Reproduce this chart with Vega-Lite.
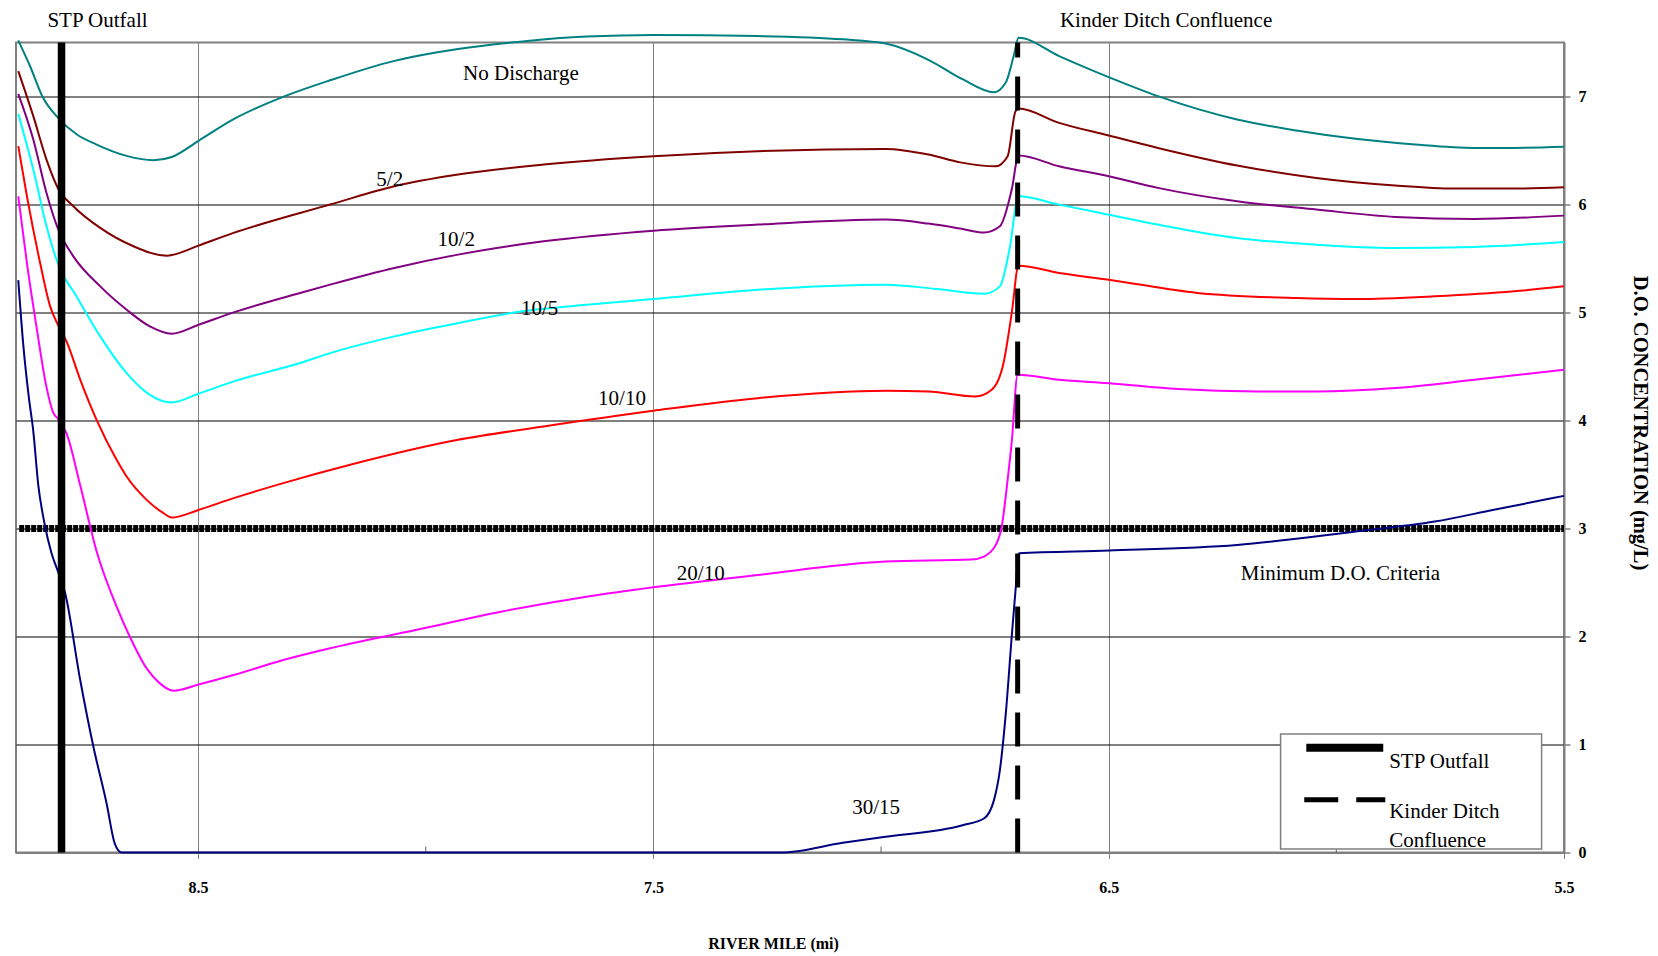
{
  "$schema": "https://vega.github.io/schema/vega-lite/v6.json",
  "autosize": "none",
  "width": 1548,
  "height": 810,
  "padding": {"left": 16, "top": 42.5, "right": 94, "bottom": 103.5},
  "background": "white",
  "config": {
    "font": "Liberation Serif",
    "view": {"stroke": "#808080", "strokeWidth": 2}
  },
  "datasets": {
    "curves": [
      {"s":"No Discharge","m":8.895,"d":7.52},{"s":"No Discharge","m":8.869,"d":7.28},{"s":"No Discharge","m":8.842,"d":7.0},{"s":"No Discharge","m":8.807,"d":6.8},{"s":"No Discharge","m":8.767,"d":6.65},{"s":"No Discharge","m":8.723,"d":6.555},{"s":"No Discharge","m":8.657,"d":6.45},{"s":"No Discharge","m":8.598,"d":6.41},{"s":"No Discharge","m":8.558,"d":6.44},{"s":"No Discharge","m":8.499,"d":6.59},{"s":"No Discharge","m":8.422,"d":6.79},{"s":"No Discharge","m":8.305,"d":7.01},{"s":"No Discharge","m":8.21,"d":7.15},{"s":"No Discharge","m":8.069,"d":7.33},{"s":"No Discharge","m":7.929,"d":7.44},{"s":"No Discharge","m":7.788,"d":7.51},{"s":"No Discharge","m":7.647,"d":7.555},{"s":"No Discharge","m":7.497,"d":7.57},{"s":"No Discharge","m":7.271,"d":7.56},{"s":"No Discharge","m":7.084,"d":7.53},{"s":"No Discharge","m":6.99,"d":7.49},{"s":"No Discharge","m":6.896,"d":7.34},{"s":"No Discharge","m":6.821,"d":7.16},{"s":"No Discharge","m":6.752,"d":7.04},{"s":"No Discharge","m":6.726,"d":7.13},{"s":"No Discharge","m":6.709,"d":7.37},{"s":"No Discharge","m":6.698,"d":7.544},{"s":"No Discharge","m":6.609,"d":7.374},{"s":"No Discharge","m":6.5,"d":7.179},{"s":"No Discharge","m":6.392,"d":7.003},{"s":"No Discharge","m":6.218,"d":6.787},{"s":"No Discharge","m":6.088,"d":6.685},{"s":"No Discharge","m":5.958,"d":6.608},{"s":"No Discharge","m":5.827,"d":6.555},{"s":"No Discharge","m":5.697,"d":6.524},{"s":"No Discharge","m":5.61,"d":6.524},{"s":"No Discharge","m":5.5,"d":6.534},

      {"s":"5/2","m":8.895,"d":7.235},{"s":"5/2","m":8.862,"d":6.818},{"s":"5/2","m":8.833,"d":6.416},{"s":"5/2","m":8.807,"d":6.144},{"s":"5/2","m":8.774,"d":5.984},{"s":"5/2","m":8.715,"d":5.783},{"s":"5/2","m":8.642,"d":5.613},{"s":"5/2","m":8.569,"d":5.526},{"s":"5/2","m":8.554,"d":5.536},{"s":"5/2","m":8.499,"d":5.619},{"s":"5/2","m":8.422,"d":5.737},{"s":"5/2","m":8.276,"d":5.922},{"s":"5/2","m":8.21,"d":6.0},{"s":"5/2","m":8.069,"d":6.169},{"s":"5/2","m":7.929,"d":6.277},{"s":"5/2","m":7.741,"d":6.37},{"s":"5/2","m":7.5,"d":6.447},{"s":"5/2","m":7.271,"d":6.493},{"s":"5/2","m":6.99,"d":6.515},{"s":"5/2","m":6.896,"d":6.463},{"s":"5/2","m":6.826,"d":6.39},{"s":"5/2","m":6.748,"d":6.354},{"s":"5/2","m":6.722,"d":6.447},{"s":"5/2","m":6.705,"d":6.86},{"s":"5/2","m":6.698,"d":6.889},{"s":"5/2","m":6.609,"d":6.756},{"s":"5/2","m":6.5,"d":6.639},{"s":"5/2","m":6.392,"d":6.524},{"s":"5/2","m":6.218,"d":6.361},{"s":"5/2","m":6.044,"d":6.246},{"s":"5/2","m":5.871,"d":6.175},{"s":"5/2","m":5.74,"d":6.147},{"s":"5/2","m":5.61,"d":6.147},{"s":"5/2","m":5.5,"d":6.16},

      {"s":"10/2","m":8.895,"d":7.025},{"s":"10/2","m":8.862,"d":6.602},{"s":"10/2","m":8.833,"d":6.107},{"s":"10/2","m":8.807,"d":5.767},{"s":"10/2","m":8.774,"d":5.52},{"s":"10/2","m":8.715,"d":5.242},{"s":"10/2","m":8.657,"d":5.026},{"s":"10/2","m":8.606,"d":4.871},{"s":"10/2","m":8.558,"d":4.804},{"s":"10/2","m":8.499,"d":4.887},{"s":"10/2","m":8.422,"d":5.001},{"s":"10/2","m":8.276,"d":5.181},{"s":"10/2","m":8.21,"d":5.258},{"s":"10/2","m":8.069,"d":5.412},{"s":"10/2","m":7.929,"d":5.536},{"s":"10/2","m":7.741,"d":5.659},{"s":"10/2","m":7.5,"d":5.758},{"s":"10/2","m":7.271,"d":5.814},{"s":"10/2","m":6.99,"d":5.86},{"s":"10/2","m":6.896,"d":5.823},{"s":"10/2","m":6.826,"d":5.777},{"s":"10/2","m":6.774,"d":5.74},{"s":"10/2","m":6.739,"d":5.798},{"s":"10/2","m":6.713,"d":6.138},{"s":"10/2","m":6.698,"d":6.453},{"s":"10/2","m":6.609,"d":6.354},{"s":"10/2","m":6.5,"d":6.262},{"s":"10/2","m":6.392,"d":6.154},{"s":"10/2","m":6.218,"d":6.03},{"s":"10/2","m":6.044,"d":5.953},{"s":"10/2","m":5.871,"d":5.885},{"s":"10/2","m":5.697,"d":5.866},{"s":"10/2","m":5.5,"d":5.897},

      {"s":"10/5","m":8.895,"d":6.839},{"s":"10/5","m":8.862,"d":6.323},{"s":"10/5","m":8.833,"d":5.798},{"s":"10/5","m":8.807,"d":5.443},{"s":"10/5","m":8.767,"d":5.149},{"s":"10/5","m":8.715,"d":4.779},{"s":"10/5","m":8.657,"d":4.439},{"s":"10/5","m":8.606,"d":4.238},{"s":"10/5","m":8.558,"d":4.167},{"s":"10/5","m":8.499,"d":4.248},{"s":"10/5","m":8.422,"d":4.362},{"s":"10/5","m":8.276,"d":4.532},{"s":"10/5","m":8.21,"d":4.624},{"s":"10/5","m":8.069,"d":4.779},{"s":"10/5","m":7.929,"d":4.902},{"s":"10/5","m":7.788,"d":5.011},{"s":"10/5","m":7.647,"d":5.072},{"s":"10/5","m":7.5,"d":5.125},{"s":"10/5","m":7.271,"d":5.211},{"s":"10/5","m":6.99,"d":5.258},{"s":"10/5","m":6.877,"d":5.217},{"s":"10/5","m":6.774,"d":5.174},{"s":"10/5","m":6.739,"d":5.242},{"s":"10/5","m":6.718,"d":5.582},{"s":"10/5","m":6.698,"d":6.076},{"s":"10/5","m":6.609,"d":5.999},{"s":"10/5","m":6.5,"d":5.906},{"s":"10/5","m":6.392,"d":5.814},{"s":"10/5","m":6.218,"d":5.69},{"s":"10/5","m":6.044,"d":5.628},{"s":"10/5","m":5.871,"d":5.598},{"s":"10/5","m":5.697,"d":5.607},{"s":"10/5","m":5.5,"d":5.653},

      {"s":"10/10","m":8.895,"d":6.54},{"s":"10/10","m":8.876,"d":6.076},{"s":"10/10","m":8.847,"d":5.458},{"s":"10/10","m":8.825,"d":5.057},{"s":"10/10","m":8.807,"d":4.878},{"s":"10/10","m":8.789,"d":4.732},{"s":"10/10","m":8.759,"d":4.379},{"s":"10/10","m":8.723,"d":4.006},{"s":"10/10","m":8.679,"d":3.636},{"s":"10/10","m":8.657,"d":3.481},{"s":"10/10","m":8.613,"d":3.265},{"s":"10/10","m":8.576,"d":3.142},{"s":"10/10","m":8.558,"d":3.101},{"s":"10/10","m":8.499,"d":3.172},{"s":"10/10","m":8.422,"d":3.281},{"s":"10/10","m":8.313,"d":3.42},{"s":"10/10","m":8.166,"d":3.59},{"s":"10/10","m":7.929,"d":3.821},{"s":"10/10","m":7.741,"d":3.945},{"s":"10/10","m":7.5,"d":4.09},{"s":"10/10","m":7.271,"d":4.207},{"s":"10/10","m":6.99,"d":4.275},{"s":"10/10","m":6.896,"d":4.269},{"s":"10/10","m":6.793,"d":4.223},{"s":"10/10","m":6.757,"d":4.285},{"s":"10/10","m":6.731,"d":4.532},{"s":"10/10","m":6.713,"d":4.995},{"s":"10/10","m":6.698,"d":5.434},{"s":"10/10","m":6.609,"d":5.366},{"s":"10/10","m":6.5,"d":5.304},{"s":"10/10","m":6.305,"d":5.181},{"s":"10/10","m":6.088,"d":5.134},{"s":"10/10","m":5.958,"d":5.125},{"s":"10/10","m":5.784,"d":5.15},{"s":"10/10","m":5.61,"d":5.196},{"s":"10/10","m":5.5,"d":5.242},

      {"s":"20/10","m":8.895,"d":6.076},{"s":"20/10","m":8.876,"d":5.458},{"s":"20/10","m":8.854,"d":4.841},{"s":"20/10","m":8.834,"d":4.33},{"s":"20/10","m":8.818,"d":4.07},{"s":"20/10","m":8.807,"d":4.013},{"s":"20/10","m":8.789,"d":3.88},{"s":"20/10","m":8.759,"d":3.4},{"s":"20/10","m":8.723,"d":2.79},{"s":"20/10","m":8.679,"d":2.276},{"s":"20/10","m":8.65,"d":1.998},{"s":"20/10","m":8.613,"d":1.705},{"s":"20/10","m":8.584,"d":1.566},{"s":"20/10","m":8.554,"d":1.498},{"s":"20/10","m":8.499,"d":1.555},{"s":"20/10","m":8.422,"d":1.643},{"s":"20/10","m":8.313,"d":1.782},{"s":"20/10","m":8.21,"d":1.891},{"s":"20/10","m":8.022,"d":2.06},{"s":"20/10","m":7.835,"d":2.23},{"s":"20/10","m":7.647,"d":2.369},{"s":"20/10","m":7.5,"d":2.456},{"s":"20/10","m":7.271,"d":2.57},{"s":"20/10","m":7.084,"d":2.663},{"s":"20/10","m":6.99,"d":2.694},{"s":"20/10","m":6.802,"d":2.712},{"s":"20/10","m":6.774,"d":2.74},{"s":"20/10","m":6.748,"d":2.848},{"s":"20/10","m":6.735,"d":3.018},{"s":"20/10","m":6.722,"d":3.451},{"s":"20/10","m":6.713,"d":3.8},{"s":"20/10","m":6.7,"d":4.424},{"s":"20/10","m":6.609,"d":4.377},{"s":"20/10","m":6.5,"d":4.346},{"s":"20/10","m":6.348,"d":4.291},{"s":"20/10","m":6.175,"d":4.269},{"s":"20/10","m":6.044,"d":4.269},{"s":"20/10","m":5.871,"d":4.3},{"s":"20/10","m":5.697,"d":4.377},{"s":"20/10","m":5.5,"d":4.47},

      {"s":"30/15","m":8.895,"d":5.3},{"s":"30/15","m":8.884,"d":4.7},{"s":"30/15","m":8.872,"d":4.22},{"s":"30/15","m":8.862,"d":3.9},{"s":"30/15","m":8.851,"d":3.4},{"s":"30/15","m":8.838,"d":3.06},{"s":"30/15","m":8.822,"d":2.771},{"s":"30/15","m":8.809,"d":2.616},{"s":"30/15","m":8.792,"d":2.4},{"s":"30/15","m":8.759,"d":1.597},{"s":"30/15","m":8.73,"d":0.979},{"s":"30/15","m":8.701,"d":0.454},{"s":"30/15","m":8.683,"d":0.083},{"s":"30/15","m":8.668,"d":0.0},{"s":"30/15","m":7.22,"d":0.0},{"s":"30/15","m":7.084,"d":0.09},{"s":"30/15","m":6.99,"d":0.145},{"s":"30/15","m":6.821,"d":0.253},{"s":"30/15","m":6.774,"d":0.315},{"s":"30/15","m":6.752,"d":0.485},{"s":"30/15","m":6.739,"d":0.763},{"s":"30/15","m":6.726,"d":1.288},{"s":"30/15","m":6.713,"d":1.999},{"s":"30/15","m":6.704,"d":2.462},{"s":"30/15","m":6.697,"d":2.771},{"s":"30/15","m":6.5,"d":2.796},{"s":"30/15","m":6.218,"d":2.848},{"s":"30/15","m":5.958,"d":2.972},{"s":"30/15","m":5.784,"d":3.064},{"s":"30/15","m":5.654,"d":3.173},{"s":"30/15","m":5.5,"d":3.302}
    ],
    "labels": [
      {"t":"No Discharge","m":7.791,"d":7.151},
      {"t":"5/2","m":8.079,"d":6.169},
      {"t":"10/2","m":7.933,"d":5.613},
      {"t":"10/5","m":7.75,"d":4.98},
      {"t":"10/10","m":7.569,"d":4.146},
      {"t":"20/10","m":7.396,"d":2.524},
      {"t":"30/15","m":7.011,"d":0.361},
      {"t":"Minimum D.O. Criteria","m":5.991,"d":2.524},
      {"t":"STP Outfall","m":8.721,"d":7.648},
      {"t":"Kinder Ditch Confluence","m":6.374,"d":7.648}
    ],
    "legendText": [
      {"t":"STP Outfall","m":5.884,"d":0.778},
      {"t":"Kinder Ditch","m":5.884,"d":0.315},
      {"t":"Confluence","m":5.884,"d":0.052}
    ]
  },
  "encoding": {
    "x": {
      "field": "m", "type": "quantitative",
      "scale": {"domain": [5.5, 8.9], "reverse": true, "nice": false, "zero": false},
      "axis": {
        "values": [8.5, 7.5, 6.5, 5.5], "format": ".1f", "title": "RIVER MILE (mi)",
        "grid": true, "gridColor": "#808080", "gridWidth": 1,
        "domainColor": "#808080", "domainWidth": 2,
        "tickColor": "#808080", "tickSize": 6,
        "labelFont": "Liberation Serif", "labelFontSize": 16, "labelFontWeight": "bold", "labelColor": "#000000", "labelPadding": 21, "labelFlush": false,
        "titleFont": "Liberation Serif", "titleFontSize": 16, "titleFontWeight": "bold", "titleColor": "#000000", "titlePadding": 40, "titleX": 757
      }
    },
    "y": {
      "field": "d", "type": "quantitative",
      "scale": {"domain": [0, 7.5], "nice": false, "zero": false},
      "axis": {
        "orient": "right", "values": [0, 1, 2, 3, 4, 5, 6, 7], "title": "D.O. CONCENTRATION (mg/L)",
        "grid": true, "gridColor": "#000000", "gridWidth": 1,
        "domainColor": "#808080", "domainWidth": 2,
        "tickColor": "#404040", "tickSize": 6,
        "labelFont": "Liberation Serif", "labelFontSize": 16, "labelFontWeight": "bold", "labelColor": "#000000", "labelPadding": 8,
        "titleFont": "Liberation Serif", "titleFontSize": 20.5, "titleFontWeight": "bold", "titleColor": "#000000", "titlePadding": 43, "titleY": 380
      }
    }
  },
  "layer": [
    {
      "data": {"values": [{"m": 8.893, "m2": 5.5, "d": 3}]},
      "mark": {"type": "rule", "color": "#000000", "strokeWidth": 7, "strokeDash": [5, 1], "strokeCap": "butt"},
      "encoding": {"x2": {"field": "m2"}}
    },
    {
      "data": {"values": [{"m": 8.0, "d": 0, "d2": 0.055}, {"m": 7.0, "d": 0, "d2": 0.055}, {"m": 6.0, "d": 0, "d2": 0.055}]},
      "mark": {"type": "rule", "color": "#606060", "strokeWidth": 1},
      "encoding": {"y2": {"field": "d2"}}
    },
    {
      "data": {"name": "curves"},
      "mark": {"type": "line", "strokeWidth": 2, "interpolate": "monotone"},
      "encoding": {
        "color": {
          "field": "s", "type": "nominal",
          "scale": {"domain": ["No Discharge", "5/2", "10/2", "10/5", "10/10", "20/10", "30/15"], "range": ["#008080", "#800000", "#800080", "#00FFFF", "#FF0000", "#FF00FF", "#000080"]},
          "legend": null
        }
      }
    },
    {
      "data": {"values": [{"name": "STP Outfall", "m": 8.8, "d": 0, "d2": 7.5}]},
      "mark": {"type": "rule", "color": "#000000", "strokeWidth": 7.5, "strokeCap": "butt"},
      "encoding": {"y2": {"field": "d2"}}
    },
    {
      "data": {"values": [{"name": "Kinder Ditch Confluence", "m": 6.7, "d": 0, "d2": 7.5}]},
      "mark": {"type": "rule", "color": "#000000", "strokeWidth": 5, "strokeDash": [34, 19], "strokeCap": "butt"},
      "encoding": {"y2": {"field": "d2"}}
    },
    {
      "data": {"name": "labels"},
      "mark": {"type": "text", "font": "Liberation Serif", "fontSize": 21, "color": "#000000", "align": "center", "baseline": "alphabetic"},
      "encoding": {"text": {"field": "t"}}
    },
    {
      "data": {"values": [{"m": 6.1225, "m2": 5.5492, "d": 1.0964, "d2": 0.0334}]},
      "mark": {"type": "rect", "fill": "#FFFFFF", "stroke": "#808080", "strokeWidth": 1.5},
      "encoding": {"x2": {"field": "m2"}, "y2": {"field": "d2"}}
    },
    {
      "data": {"values": [{"name": "STP Outfall", "m": 6.066, "m2": 5.897, "d": 0.971}]},
      "mark": {"type": "rule", "color": "#000000", "strokeWidth": 8, "strokeCap": "butt"},
      "encoding": {"x2": {"field": "m2"}}
    },
    {
      "data": {"values": [{"name": "Kinder Ditch Confluence", "m": 6.0705, "m2": 5.8925, "d": 0.489}]},
      "mark": {"type": "rule", "color": "#000000", "strokeWidth": 5, "strokeDash": [34, 18], "strokeCap": "butt"},
      "encoding": {"x2": {"field": "m2"}}
    },
    {
      "data": {"name": "legendText"},
      "mark": {"type": "text", "font": "Liberation Serif", "fontSize": 21, "color": "#000000", "align": "left", "baseline": "alphabetic"},
      "encoding": {"text": {"field": "t"}}
    }
  ]
}
